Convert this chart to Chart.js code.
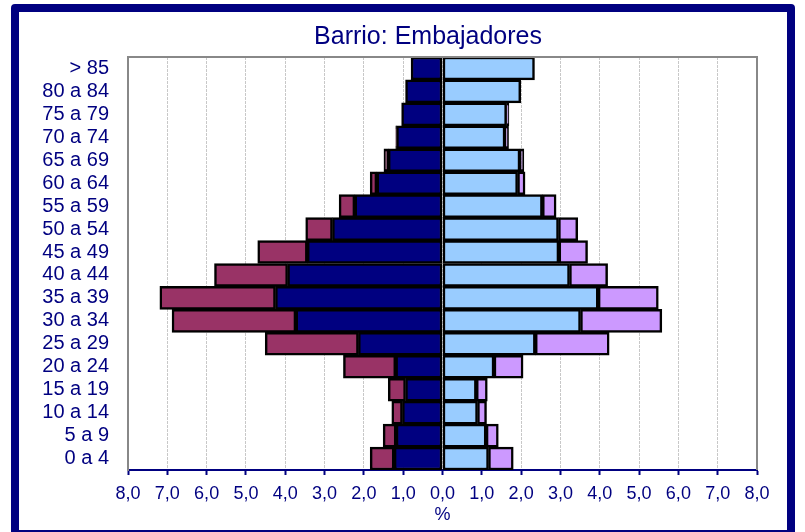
<!DOCTYPE html>
<html>
<head>
<meta charset="utf-8">
<title>Barrio: Embajadores</title>
<script src="https://cdn.jsdelivr.net/npm/chart.js@4.4.0/dist/chart.umd.min.js"></script>
<style>
  html, body { margin: 0; padding: 0; background: #fff; }
  #wrap { position: relative; width: 805px; height: 532px; overflow: hidden; }
  #frame {
    position: absolute; left: 11px; top: 4px; width: 768px; height: 518px;
    border: 8px solid #000080; border-radius: 4px; pointer-events: none;
  }
  canvas { position: absolute; left: 0; top: 0; }
</style>
</head>
<body>
<div id="wrap">
  <canvas id="pyramid" width="805" height="532"></canvas>
  <div id="frame"></div>
</div>
<script>
// age groups, top to bottom
const grupos = ['> 85', '80 a 84', '75 a 79', '70 a 74', '65 a 69', '60 a 64', '55 a 59',
  '50 a 54', '45 a 49', '40 a 44', '35 a 39', '30 a 34', '25 a 29', '20 a 24',
  '15 a 19', '10 a 14', '5 a 9', '0 a 4'];

// % of population
const hombresEsp = [0.80, 0.94, 1.04, 1.17, 1.38, 1.67, 2.23, 2.80, 3.44, 3.94, 4.25, 3.73, 2.14, 1.19, 0.94, 1.02, 1.18, 1.23];
const hombresExt = [0.00, 0.00, 0.00, 0.02, 0.11, 0.17, 0.40, 0.68, 1.26, 1.86, 2.94, 3.15, 2.37, 1.33, 0.44, 0.27, 0.33, 0.61];
const mujeresEsp = [2.34, 1.99, 1.63, 1.59, 1.97, 1.91, 2.54, 2.95, 2.96, 3.23, 3.96, 3.51, 2.36, 1.31, 0.86, 0.89, 1.11, 1.17];
const mujeresExt = [0.00, 0.00, 0.06, 0.09, 0.10, 0.19, 0.35, 0.49, 0.73, 0.97, 1.53, 2.07, 1.88, 0.74, 0.28, 0.23, 0.31, 0.63];

const xTicks = [-8, -7, -6, -5, -4, -3, -2, -1, 0, 1, 2, 3, 4, 5, 6, 7, 8];

const NAVY = '#000080';

function serie(label, values, color, sign) {
    return {
        label: label,
        data: values.map(v => v * sign),
        backgroundColor: color,
        borderColor: '#000000',
        borderWidth: 2.5,
        borderSkipped: false,
        barPercentage: 1,
        categoryPercentage: 1,
        stack: 'pop'
    };
}

// plot frame (top / right in gray) + title
const marco = {
    id: 'marco',
    afterDraw(chart) {
        const { ctx, chartArea: a } = chart;
        ctx.save();
        ctx.strokeStyle = '#888888';
        ctx.lineWidth = 2;
        ctx.beginPath();
        ctx.moveTo(a.left, a.top);
        ctx.lineTo(a.right, a.top);
        ctx.lineTo(a.right, a.bottom);
        ctx.stroke();
        ctx.fillStyle = NAVY;
        ctx.font = '25px "Liberation Sans", Arial, sans-serif';
        ctx.textAlign = 'center';
        ctx.textBaseline = 'middle';
        ctx.fillText('Barrio: Embajadores', 428, 37);
        ctx.restore();
    }
};

new Chart(document.getElementById('pyramid'), {
    type: 'bar',
    data: {
        labels: grupos,
        datasets: [
            serie('Hombres españoles', hombresEsp, '#000080', -1),
            serie('Hombres extranjeros', hombresExt, '#993366', -1),
            serie('Mujeres españolas', mujeresEsp, '#99CCFF', 1),
            serie('Mujeres extranjeras', mujeresExt, '#CC99FF', 1)
        ]
    },
    options: {
        indexAxis: 'y',
        responsive: false,
        animation: false,
        layout: { padding: { top: 57, left: 20, right: 48, bottom: 6 } },
        plugins: {
            legend: { display: false },
            tooltip: { enabled: false },
            title: { display: false }
        },
        scales: {
            x: {
                stacked: true,
                min: -8,
                max: 8,
                afterBuildTicks: scale => { scale.ticks = xTicks.map(v => ({ value: v })); },
                afterFit: scale => { scale.height = 56; },
                grid: {
                    color: '#c8c8c8',
                    lineWidth: 1,
                    drawTicks: true,
                    tickLength: 5,
                    tickColor: NAVY,
                    tickWidth: 2
                },
                border: { display: true, color: NAVY, width: 2, dash: [3, 1] },
                ticks: {
                    color: NAVY,
                    padding: 8,
                    maxRotation: 0,
                    autoSkip: false,
                    font: { family: '"Liberation Sans", Arial, sans-serif', size: 18 },
                    callback: v => Math.abs(v).toFixed(1).replace('.', ',')
                },
                title: {
                    display: true,
                    text: '%',
                    color: NAVY,
                    padding: { top: 0, bottom: 0 },
                    font: { family: '"Liberation Sans", Arial, sans-serif', size: 18 }
                }
            },
            y: {
                stacked: true,
                afterFit: scale => { scale.width = 108; },
                grid: { display: false, drawTicks: false },
                border: { display: true, color: '#888888', width: 2 },
                ticks: {
                    color: NAVY,
                    padding: 19,
                    autoSkip: false,
                    font: { family: '"Liberation Sans", Arial, sans-serif', size: 20 }
                }
            }
        }
    },
    plugins: [marco]
});
</script>
</body>
</html>
